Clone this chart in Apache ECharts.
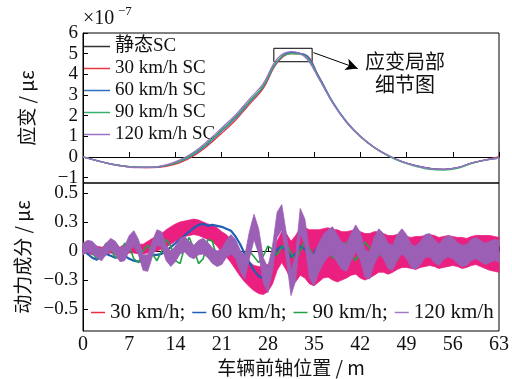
<!DOCTYPE html>
<html><head><meta charset="utf-8">
<script src="https://cdn.jsdelivr.net/npm/echarts@6/dist/echarts.min.js"></script>
<style>html,body{margin:0;padding:0;background:#fff}#c{width:512px;height:379px}</style>
</head><body><div id="c"></div>
<script>
// ---- top plot: quasi-static strain (x1e-7) ----
const xTop = [0,2.1,4.2,6.3,8.4,10.5,12.6,14.7,16.8,18.9,21,23.1,25.2,27.3,29.4,31.5,33.6,35.7,37.8,39.9,42,44.1,46.2,48.3,50.4,52.5,54.6,56.7,58.8,60.9,63];
const topNames = ['静态SC','30 km/h SC','60 km/h SC','90 km/h SC','120 km/h SC'];
const sStatic = [0.0,-0.18,-0.34,-0.44,-0.49,-0.49,-0.40,-0.18,0.18,0.70,1.32,1.95,2.7,3.45,4.65,5.05,4.9,3.85,2.65,1.7,1.0,0.47,0.08,-0.22,-0.42,-0.55,-0.6,-0.52,-0.3,-0.15,-0.05];
const s30 = [0.0,-0.18,-0.34,-0.45,-0.5,-0.52,-0.45,-0.27,0.06,0.55,1.15,1.78,2.55,3.32,4.55,5.0,4.95,3.9,2.65,1.7,1.0,0.47,0.07,-0.22,-0.42,-0.55,-0.6,-0.52,-0.3,-0.14,0.02];
const s60 = [0.0,-0.18,-0.34,-0.45,-0.5,-0.5,-0.42,-0.22,0.12,0.63,1.25,1.88,2.64,3.4,4.6,5.05,4.95,3.9,2.68,1.72,1.0,0.47,0.08,-0.22,-0.42,-0.55,-0.6,-0.52,-0.3,-0.15,-0.05];
const s90 = [0.0,-0.18,-0.35,-0.45,-0.5,-0.5,-0.41,-0.2,0.16,0.68,1.3,1.93,2.68,3.43,4.63,5.0,4.88,3.83,2.63,1.68,0.98,0.45,0.05,-0.25,-0.45,-0.6,-0.63,-0.55,-0.32,-0.15,-0.05];
const s120 = [0.0,-0.18,-0.34,-0.46,-0.52,-0.5,-0.38,-0.14,0.24,0.78,1.4,2.03,2.8,3.55,4.75,5.1,4.85,3.8,2.62,1.68,0.99,0.46,0.07,-0.23,-0.43,-0.56,-0.6,-0.52,-0.3,-0.15,-0.05];
const topYTicks = [-1,0,1,2,3,4,5,6];

// ---- bottom plot: dynamic component ----
const xBot = [0,0.7,1.4,2.1,2.8,3.5,4.2,4.9,5.6,6.3,7,7.7,8.4,9.1,9.8,10.5,11.2,11.9,12.6,13.3,14,14.7,15.4,16.1,16.8,17.5,18.2,18.9,19.6,20.3,21,21.7,22.4,23.1,23.8,24.5,25.2,25.9,26.6,27.3,28,28.7,29.4,30.1,30.8,31.5,32.2,32.9,33.6,34.3,35,35.7,36.4,37.1,37.8,38.5,39.2,39.9,40.6,41.3,42,42.7,43.4,44.1,44.8,45.5,46.2,46.9,47.6,48.3,49,49.7,50.4,51.1,51.8,52.5,53.2,53.9,54.6,55.3,56,56.7,57.4,58.1,58.8,59.5,60.2,60.9,61.6,62.3,63];
const botNames = ['30 km/h','60 km/h','90 km/h','120 km/h'];
const d30Low = [-0.02,-0.02,-0.04,-0.03,-0.04,-0.03,-0.02,-0.04,-0.04,-0.03,-0.02,-0.02,-0.03,-0.03,-0.02,-0.01,0.0,0.02,0.04,0.07,0.1,0.12,0.15,0.16,0.17,0.16,0.14,0.12,0.1,0.05,-0.01,-0.06,-0.12,-0.19,-0.26,-0.32,-0.37,-0.41,-0.44,-0.45,-0.42,-0.34,-0.2,-0.12,-0.2,-0.3,-0.32,-0.25,-0.28,-0.34,-0.36,-0.32,-0.28,-0.27,-0.3,-0.32,-0.3,-0.28,-0.25,-0.24,-0.28,-0.3,-0.28,-0.25,-0.22,-0.22,-0.24,-0.22,-0.19,-0.17,-0.17,-0.18,-0.19,-0.17,-0.16,-0.15,-0.16,-0.18,-0.17,-0.16,-0.15,-0.16,-0.18,-0.17,-0.15,-0.14,-0.16,-0.18,-0.2,-0.21,-0.22];
const d30High = [0.06,0.06,0.04,0.05,0.04,0.05,0.06,0.04,0.04,0.07,0.08,0.08,0.07,0.07,0.1,0.13,0.16,0.18,0.22,0.25,0.28,0.3,0.31,0.32,0.33,0.32,0.3,0.28,0.27,0.24,0.2,0.17,0.12,0.05,0.0,-0.06,-0.11,-0.15,-0.16,-0.17,-0.14,-0.06,0.1,0.2,0.18,0.1,0.16,0.24,0.24,0.22,0.22,0.22,0.23,0.24,0.22,0.22,0.2,0.2,0.21,0.22,0.2,0.18,0.18,0.2,0.2,0.18,0.16,0.16,0.17,0.17,0.15,0.14,0.15,0.15,0.16,0.17,0.16,0.14,0.15,0.16,0.15,0.14,0.14,0.13,0.15,0.16,0.16,0.16,0.16,0.15,0.14];
const d60 = [0.02,-0.03,-0.07,-0.09,-0.05,-0.03,-0.05,-0.07,-0.06,-0.05,-0.08,-0.1,-0.11,-0.1,-0.07,-0.04,-0.04,-0.03,0.0,0.04,0.08,0.12,0.16,0.2,0.24,0.27,0.28,0.26,0.27,0.26,0.25,0.23,0.21,0.15,0.07,-0.03,-0.12,-0.2,-0.26,-0.28,-0.22,-0.1,0.02,0.05,0.0,-0.06,-0.03,0.05,0.02,-0.06,-0.02,0.05,0.03,-0.03,0.0,0.06,0.04,-0.03,-0.04,0.02,0.05,0.0,-0.05,-0.02,0.04,0.04,-0.02,-0.04,0.01,0.05,0.02,-0.03,-0.03,0.02,0.04,0.0,-0.03,0.0,0.04,0.02,-0.02,-0.03,0.01,0.04,0.01,-0.03,-0.02,0.02,0.03,0.0,-0.02];
const d90 = [0.05,0.06,-0.02,-0.08,0.0,0.08,0.02,-0.07,-0.03,0.08,0.05,-0.08,-0.12,0.0,0.06,-0.03,-0.1,0.0,0.12,0.05,-0.1,-0.13,0.04,0.14,0.02,-0.13,-0.08,0.12,0.1,-0.08,-0.13,0.05,0.12,-0.02,-0.1,-0.04,0.0,-0.06,-0.12,-0.05,0.05,0.02,-0.04,0.04,0.08,-0.02,-0.1,0.0,0.1,0.03,-0.09,-0.05,0.07,0.06,-0.07,-0.08,0.05,0.09,-0.03,-0.1,0.0,0.09,0.03,-0.08,-0.05,0.07,0.08,-0.04,-0.1,0.02,0.1,0.03,-0.09,-0.06,0.08,0.14,0.02,-0.1,-0.06,0.08,0.1,-0.03,-0.1,-0.02,0.08,0.06,-0.05,-0.08,0.03,0.09,0.04];
const d120Low = [-0.04,-0.01,-0.02,-0.07,-0.1,-0.04,0.01,-0.04,-0.11,-0.1,0.0,0.05,-0.04,-0.2,-0.21,-0.06,0.06,0.04,-0.1,-0.16,-0.11,-0.03,-0.01,-0.06,-0.08,-0.04,-0.03,-0.07,-0.13,-0.16,-0.14,-0.07,-0.03,-0.08,-0.21,-0.29,-0.08,0.12,-0.03,-0.33,-0.43,-0.21,0.14,0.22,-0.08,-0.46,-0.31,0.17,0.07,-0.28,-0.36,-0.22,-0.13,-0.06,-0.04,-0.12,-0.19,-0.21,-0.1,-0.01,-0.09,-0.27,-0.29,-0.14,-0.03,-0.08,-0.18,-0.2,-0.09,-0.03,-0.08,-0.17,-0.19,-0.14,-0.07,-0.06,-0.12,-0.15,-0.09,-0.06,-0.08,-0.13,-0.16,-0.15,-0.1,-0.08,-0.11,-0.14,-0.12,-0.1,-0.11];
const d120High = [0.08,0.11,0.1,0.05,0.02,0.08,0.13,0.1,0.03,0.05,0.16,0.21,0.12,-0.04,-0.04,0.1,0.22,0.2,0.06,0.0,0.05,0.13,0.15,0.1,0.06,0.11,0.13,0.09,0.03,0.0,0.02,0.11,0.17,0.12,0.01,-0.05,0.2,0.38,0.23,-0.07,-0.17,0.05,0.4,0.48,0.18,-0.2,-0.05,0.44,0.33,0.0,-0.04,0.08,0.17,0.22,0.25,0.17,0.09,0.07,0.18,0.27,0.19,0.01,-0.01,0.14,0.23,0.18,0.08,0.06,0.17,0.23,0.17,0.07,0.05,0.1,0.17,0.18,0.12,0.07,0.13,0.16,0.14,0.09,0.06,0.07,0.12,0.14,0.11,0.08,0.1,0.12,0.11];
const botYTicks = [-0.6,-0.3,0,0.3,0.6];
const botYTickText = ['−0.5','−0.3','0','0.3','0.5'];

const FONT = "'Liberation Serif','Noto Sans CJK SC',serif";
const CJK = "'Noto Sans CJK SC','Liberation Serif',sans-serif";
const topColors = ['#333333','#e8353f','#2f6fc2','#35b06a','#9a72c4'];
const c30 = '#ea1f7f', c60 = '#1f5fb3', c90 = '#22a045', c120 = '#9b5fb5';
const legendColors = ['#f0283c', c60, c90, '#a07cc8'];

function pairs(xs, ys){ return xs.map((x,i)=>[x, ys[i]]); }

const topSeries = [sStatic,s30,s60,s90,s120].map((arr,k)=>({
  name: topNames[k], type:'line', xAxisIndex:0, yAxisIndex:0, smooth:0.4, symbol:'none', showSymbol:false,
  data: pairs(xTop, arr), lineStyle:{width: k===0?1:1.3, color: topColors[k]}, itemStyle:{color: topColors[k]}, z: 2+k
}));
topSeries[0].markArea = {silent:true, itemStyle:{color:'rgba(0,0,0,0)', borderColor:'#000', borderWidth:1},
  data:[[{coord:[28.9,5.26]},{coord:[34.7,4.61]}]]};
topSeries[0].markLine = {silent:true, symbol:['none','arrow'], symbolSize:[9,12], lineStyle:{color:'#000', width:1, type:'solid'},
  label:{show:false}, data:[[{coord:[34.9,5.05]},{coord:[41.6,4.28]}]]};

function band(name, lo, hi, color, z){
  return {name, type:'custom', xAxisIndex:1, yAxisIndex:1, z, silent:true,
    data: xBot.map((x,i)=>[x, lo[i], hi[i]]),
    encode:{x:0, y:[1,2]},
    itemStyle:{color},
    renderItem:(params, api)=>{
      if (params.dataIndexInside !== 0) return null;
      const n = params.dataInsideLength;
      const top = [], bot = [];
      for (let i=0;i<n;i++){
        top.push(api.coord([api.value(0,i), api.value(2,i)]));
        bot.push(api.coord([api.value(0,i), api.value(1,i)]));
      }
      return {type:'polygon', shape:{points: top.concat(bot.reverse())}, style:{fill:color, stroke:color, lineWidth:0.8}};
    }
  };
}
// legend-only line entries (no data) so the legend shows thin line keys for the banded series
function legendKey(name, color){
  return {name, type:'line', xAxisIndex:1, yAxisIndex:1, data:[], symbol:'none', showSymbol:false, lineStyle:{width:1.5, color}, itemStyle:{color}};
}
const botSeries = [
  legendKey('30 km/h', legendColors[0]),
  legendKey('120 km/h', legendColors[3]),
  band('band 30', d30Low, d30High, c30, 2),
  {name:'60 km/h', type:'line', xAxisIndex:1, yAxisIndex:1, symbol:'none', showSymbol:false, data:pairs(xBot,d60), lineStyle:{width:2.2,color:c60}, itemStyle:{color:c60}, z:3},
  {name:'90 km/h', type:'line', xAxisIndex:1, yAxisIndex:1, symbol:'none', showSymbol:false, data:pairs(xBot,d90), lineStyle:{width:1.6,color:c90}, itemStyle:{color:c90}, z:4},
  band('band 120', d120Low, d120High, c120, 5)
];

const chart = echarts.init(document.getElementById('c'));
const axisCommon = {axisLine:{lineStyle:{color:'#000',width:1}}, axisTick:{inside:true, length:5, lineStyle:{color:'#000'}}, splitLine:{show:false}};
const legendIconStyle = {borderWidth:0, borderColor:'rgba(0,0,0,0)'};
chart.setOption({
  animation:false,
  backgroundColor:'#fff',
  grid:[
    {left:83, right:13, top:33, height:150, show:true, borderColor:'#000', borderWidth:1},
    {left:83, right:13, top:183, height:148, show:true, borderColor:'#000', borderWidth:1}
  ],
  xAxis:[
    {type:'value', gridIndex:0, min:0, max:63, interval:7, ...axisCommon, axisLabel:{show:false}},
    {type:'value', gridIndex:1, min:0, max:63, interval:7, ...axisCommon,
     axisLabel:{fontFamily:FONT, fontSize:20, color:'#111', margin:4},
     name:'车辆前轴位置 / m', nameLocation:'middle', nameGap:27, nameTextStyle:{fontFamily:CJK, fontSize:19, color:'#111'}}
  ],
  yAxis:[
    {type:'value', gridIndex:0, min:-1.26, max:6, ...axisCommon,
     axisTick:{inside:true, length:5, lineStyle:{color:'#000'}, customValues:topYTicks},
     axisLabel:{customValues:topYTicks, fontFamily:FONT, fontSize:19, color:'#111', margin:5,
       formatter:v=> v<0 ? '−'+Math.abs(v) : String(v)},
     name:'应变 / με', nameLocation:'middle', nameGap:47, nameTextStyle:{fontFamily:CJK, fontSize:19, color:'#111'}},
    {type:'value', gridIndex:1, min:-0.827, max:0.703, ...axisCommon,
     axisTick:{inside:true, length:5, lineStyle:{color:'#000'}, customValues:botYTicks},
     axisLabel:{customValues:botYTicks, fontFamily:FONT, fontSize:19, color:'#111', margin:5,
       formatter:v=>{ const k = botYTicks.findIndex(t=>Math.abs(t-v)<1e-6); return k>=0 ? botYTickText[k] : ''; }},
     name:'动力成分 / με', nameLocation:'middle', nameGap:47, nameTextStyle:{fontFamily:CJK, fontSize:19, color:'#111'}}
  ],
  legend:[
    {data:topNames, orient:'vertical', left:84, top:37, itemWidth:26, itemHeight:1.5, itemGap:3, itemTextGap:4, icon:'rect',
     itemStyle:legendIconStyle,
     textStyle:{fontFamily:FONT, fontSize:19, color:'#111'}, padding:0, selectedMode:false},
    {data:botNames, orient:'horizontal', left:91, top:302,
     itemWidth:14, itemHeight:1.5, itemGap:7, itemTextGap:3, icon:'rect',
     itemStyle:legendIconStyle,
     formatter:n=> n==='120 km/h' ? n : n+';',
     textStyle:{fontFamily:FONT, fontSize:21, color:'#111'}, padding:0, selectedMode:false}
  ],
  graphic:[
    {type:'text', left:83, top:9, style:{text:'×10', fontFamily:FONT, fontSize:20, fill:'#111'}},
    {type:'text', left:118, top:5, style:{text:'−7', fontFamily:FONT, fontSize:13, fill:'#111'}},
    {type:'text', x:405, y:50, style:{text:'应变局部\n细节图', fontFamily:CJK, fontSize:20, fill:'#111', align:'center', lineHeight:23}}
  ],
  series:[...topSeries, ...botSeries]
});
</script></body></html>
